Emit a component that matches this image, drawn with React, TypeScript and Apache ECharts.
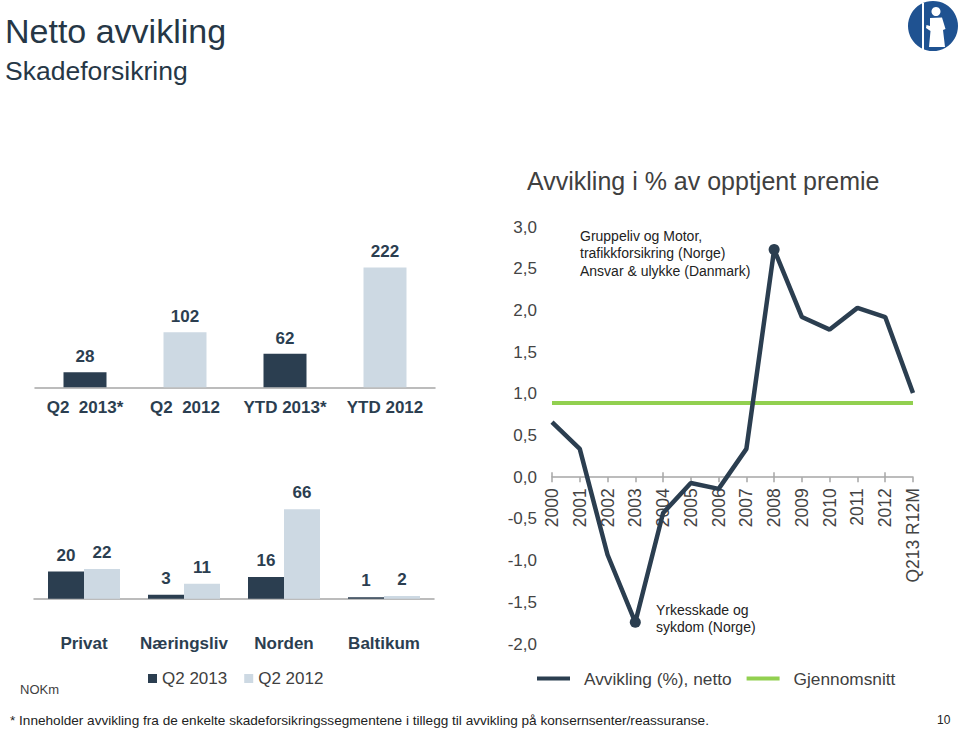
import React, { useEffect, useRef } from "react";
import * as echarts from "echarts";

const topCategories = ["Q2  2013*", "Q2  2012", "YTD 2013*", "YTD 2012"];
const topValues = [28, 102, 62, 222];
const topIsCurrent = [true, false, true, false];

const segCategories = ["Privat", "Næringsliv", "Norden", "Baltikum"];
const seriesQ2_2013 = [20, 3, 16, 1];
const seriesQ2_2012 = [22, 11, 66, 2];

const years = ["2000", "2001", "2002", "2003", "2004", "2005", "2006", "2007", "2008", "2009", "2010", "2011", "2012", "Q213 R12M"];
const avvikling = [0.66, 0.34, -0.93, -1.74, -0.43, -0.07, -0.14, 0.34, 2.73, 1.92, 1.77, 2.03, 1.92, 1.01];
const markedYears = ["2003", "2008"];
const average = 0.89;
const yMin = -2;
const yMax = 3;

const DARK = "#2b3e50";
const LIGHT = "#cdd9e3";
const GREEN = "#92d050";
const AXIS = "#a6a6a6";
const FONT = "'Liberation Sans', Arial, sans-serif";

echarts.graphic.registerShape(
  "logoFigure",
  echarts.graphic.extendPath(
    "M28 6 A4.5 4.5 0 1 1 27.99 6 Z M22 17 L34 16.5 L37.5 28 L35 29 L37 46 L21 46 L22.5 30 L18 27 L18.5 24 L22 25 Z M14 2 L16 2 L16 49 L14 49 Z",
    {}
  )
);

export default function App() {
  const ref = useRef<HTMLDivElement>(null);
  useEffect(() => {
    if (!ref.current) return;
    const chart = echarts.init(ref.current, null, { renderer: "svg" });
    const fmt = (v: number) => v.toFixed(1).replace(".", ",");
    const lineGridHeight = 417;
    const zeroOffset = -lineGridHeight * (0 - yMin) / (yMax - yMin);
    const option: any = {
      animation: false,
      textStyle: { fontFamily: FONT },
      grid: [
        { left: 35, width: 400, top: 252.3, height: 135, outerBoundsMode: "none", containLabel: false },
        { left: 34, width: 400, top: 490.3, height: 108.4, outerBoundsMode: "none", containLabel: false },
        { left: 552, width: 361, top: 227, height: lineGridHeight, outerBoundsMode: "none", containLabel: false },
      ],
      legend: [
        {
          data: ["Q2 2013", "Q2 2012"],
          left: 143,
          top: 665,
          icon: "rect",
          itemWidth: 9,
          itemHeight: 9,
          itemGap: 17,
          textStyle: { fontSize: 17, color: "#404040", fontFamily: FONT },
        },
        {
          data: ["Avvikling (%), netto", "Gjennomsnitt"],
          left: 532,
          top: 665,
          icon: "rect",
          itemWidth: 33,
          itemHeight: 4,
          itemGap: 15,
          textStyle: { fontSize: 17.3, color: "#404040", fontFamily: FONT, padding: [0, 0, 0, 9] },
        },
      ],
      xAxis: [
        {
          type: "category",
          gridIndex: 0,
          data: topCategories,
          axisLine: { lineStyle: { color: AXIS, width: 1.5 } },
          axisTick: { show: false },
          axisLabel: { fontSize: 17, fontWeight: "bold", color: DARK, margin: 12, interval: 0 },
        },
        {
          type: "category",
          gridIndex: 1,
          data: segCategories,
          axisLine: { lineStyle: { color: AXIS, width: 1.5 } },
          axisTick: { show: false },
          axisLabel: { fontSize: 17, fontWeight: "bold", color: DARK, margin: 36, interval: 0 },
        },
        {
          type: "category",
          gridIndex: 2,
          position: "bottom",
          offset: zeroOffset,
          data: years,
          boundaryGap: false,
          axisLine: { onZero: false, lineStyle: { color: AXIS, width: 1.5 } },
          axisTick: { show: true, length: 5, lineStyle: { color: AXIS, width: 1.5 } },
          axisLabel: { fontSize: 17.5, color: "#444", rotate: 90, margin: 11, interval: 0 },
        },
        {
          type: "category",
          gridIndex: 2,
          position: "bottom",
          offset: zeroOffset,
          data: years,
          boundaryGap: false,
          axisLine: { onZero: false, show: false },
          axisTick: { show: true, inside: true, length: 5, lineStyle: { color: AXIS, width: 1.5 } },
          axisLabel: { show: false },
        },
      ],
      yAxis: [
        { type: "value", gridIndex: 0, min: 0, max: 250, show: false },
        { type: "value", gridIndex: 1, min: 0, max: 80, show: false },
        {
          type: "value",
          gridIndex: 2,
          min: yMin,
          max: yMax,
          interval: 0.5,
          axisLine: { show: false },
          axisTick: { show: false },
          splitLine: { show: false },
          axisLabel: { fontSize: 17, color: "#444", margin: 15, formatter: fmt },
        },
      ],
      series: [
        {
          type: "bar",
          name: "Totalt",
          xAxisIndex: 0,
          yAxisIndex: 0,
          barWidth: 43,
          data: topValues.map((v, i) => ({ value: v, itemStyle: { color: topIsCurrent[i] ? DARK : LIGHT } })),
          label: { show: true, position: "top", distance: 7, fontSize: 17, fontWeight: "bold", color: DARK },
        },
        {
          type: "bar",
          name: "Q2 2013",
          xAxisIndex: 1,
          yAxisIndex: 1,
          barWidth: 36,
          barGap: "0%",
          itemStyle: { color: DARK },
          data: seriesQ2_2013,
          label: { show: true, position: "top", distance: 8, fontSize: 17, fontWeight: "bold", color: DARK },
        },
        {
          type: "bar",
          name: "Q2 2012",
          xAxisIndex: 1,
          yAxisIndex: 1,
          barWidth: 36,
          barGap: "0%",
          itemStyle: { color: LIGHT },
          data: seriesQ2_2012,
          label: { show: true, position: "top", distance: 8, fontSize: 17, fontWeight: "bold", color: DARK },
        },
        {
          type: "line",
          name: "Gjennomsnitt",
          xAxisIndex: 2,
          yAxisIndex: 2,
          color: GREEN,
          itemStyle: { color: GREEN },
          lineStyle: { color: GREEN, width: 4 },
          data: [],
          markLine: {
            silent: true,
            symbol: "none",
            label: { show: false },
            lineStyle: { color: GREEN, width: 4, type: "solid" },
            data: [{ yAxis: average }],
          },
        },
        {
          type: "line",
          name: "Avvikling (%), netto",
          xAxisIndex: 2,
          yAxisIndex: 2,
          color: DARK,
          itemStyle: { color: DARK },
          lineStyle: { color: DARK, width: 4.5 },
          symbol: "none",
          showSymbol: true,
          z: 5,
          data: avvikling.map((v, i) =>
            markedYears.includes(years[i])
              ? { value: v, symbol: "circle", symbolSize: 11 }
              : { value: v }
          ),
        },
      ],
      graphic: [
        { type: "text", left: 5, top: 14, style: { text: "Netto avvikling", fontSize: 34, fill: "#263746", fontFamily: FONT } },
        { type: "text", left: 5, top: 57, style: { text: "Skadeforsikring", fontSize: 26.5, fill: "#263746", fontFamily: FONT } },
        { type: "text", left: 527, top: 168, style: { text: "Avvikling i % av opptjent premie", fontSize: 25, fill: "#404040", fontFamily: FONT } },
        {
          type: "text",
          left: 580,
          top: 227,
          style: {
            text: "Gruppeliv og Motor,\ntrafikkforsikring (Norge)\nAnsvar & ulykke (Danmark)",
            fontSize: 14,
            lineHeight: 17.5,
            fill: "#222",
            fontFamily: FONT,
          },
        },
        {
          type: "text",
          left: 656,
          top: 601,
          style: { text: "Yrkesskade og\nsykdom (Norge)", fontSize: 14, lineHeight: 17.5, fill: "#222", fontFamily: FONT },
        },
        { type: "text", left: 20, top: 683, style: { text: "NOKm", fontSize: 13, fill: "#404040", fontFamily: FONT } },
        {
          type: "text",
          left: 10,
          top: 713,
          style: {
            text: "* Inneholder avvikling fra de enkelte skadeforsikringssegmentene i tillegg til avvikling på konsernsenter/reassuranse.",
            fontSize: 13.6,
            fill: "#222",
            fontFamily: FONT,
          },
        },
        { type: "text", left: 937, top: 714, style: { text: "10", fontSize: 12, fill: "#222", fontFamily: FONT } },
        { type: "circle", shape: { cx: 933, cy: 26, r: 25 }, style: { fill: "#1f5291" } },
        { type: "logoFigure", x: 908, y: 1, style: { fill: "#ffffff" } },
      ],
    };
    chart.setOption(option);
    return () => chart.dispose();
  }, []);
  return <div ref={ref} style={{ width: 960, height: 730, position: "absolute", left: 0, top: 0 }} />;
}
